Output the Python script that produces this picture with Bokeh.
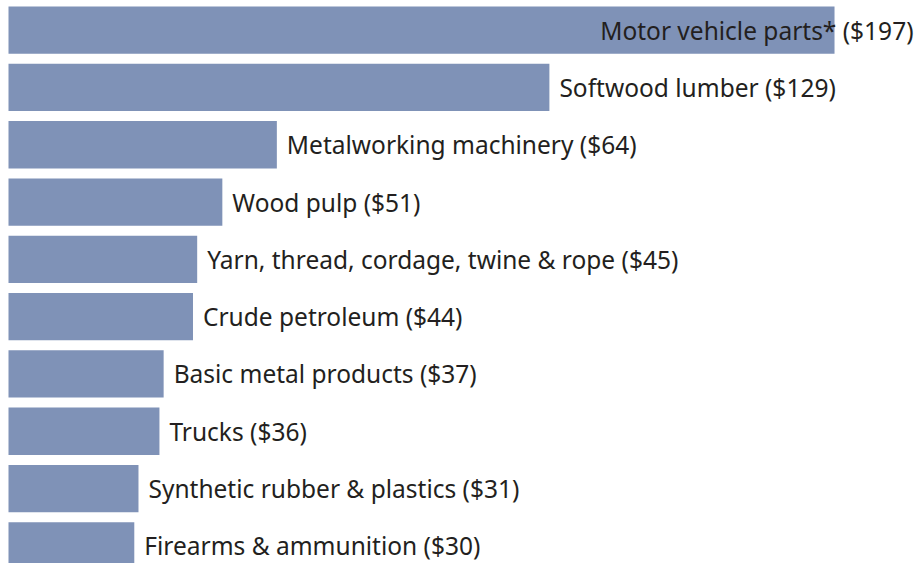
from bokeh.plotting import figure
from bokeh.models import Range1d, ColumnDataSource
from bokeh.core.properties import value
from bokeh.embed import file_html
from bokeh.resources import INLINE

categories = ["Motor vehicle parts*", "Softwood lumber", "Metalworking machinery", "Wood pulp",
              "Yarn, thread, cordage, twine & rope", "Crude petroleum", "Basic metal products",
              "Trucks", "Synthetic rubber & plastics", "Firearms & ammunition"]
values = [197, 129, 64, 51, 45, 44, 37, 36, 31, 30]

W, H = 916, 563
px_per_unit = 4.193
left_pad = 8
x_start = -left_pad / px_per_unit
x_end = x_start + W / px_per_unit
pitch = 57.3
y_top = 29.65 / pitch
y_bottom = y_top - H / pitch

ys = [-i for i in range(len(values))]
labels = [f"{c} (${v})" for c, v in zip(categories, values)]
off = 10 / px_per_unit
vmax = max(values)
lx, align = [], []
for v in values:
    if v == vmax:
        lx.append(x_end - 3 / px_per_unit); align.append("right")
    else:
        lx.append(v + off); align.append("left")

src = ColumnDataSource(dict(y=ys, v=values, lab=labels, lx=lx, align=align))

p = figure(width=W, height=H, output_backend="svg", toolbar_location=None,
           x_range=Range1d(x_start, x_end), y_range=Range1d(y_bottom, y_top),
           min_border=0, outline_line_color=None)
p.axis.visible = False
p.grid.visible = False
p.hbar(y="y", right="v", left=0, height=47.3 / pitch, source=src,
       fill_color="#7f92b7", line_color=None)
p.text(x="lx", y="y", text="lab", source=src, text_align="align",
       text_baseline="middle", text_font=value("Noto Sans"), text_font_size="24.5px",
       text_color="#231f20")

open("out.html", "w").write(file_html(p, INLINE))
